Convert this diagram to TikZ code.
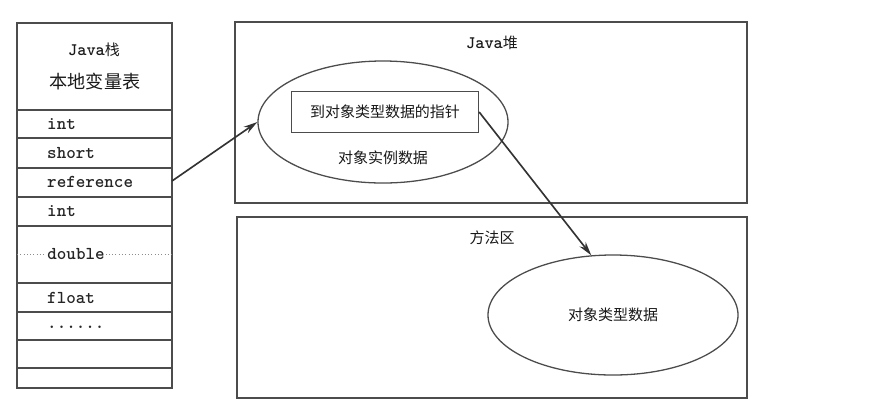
\documentclass[tikz,border=0pt]{standalone}
\usepackage{fontspec}
\setmainfont{Noto Sans CJK SC}
\usetikzlibrary{shapes.geometric,arrows.meta}
\newcommand\javaname{{\ttfamily\bfseries\fontsize{15}{17}\selectfont Java}}
\tikzset{
  frame/.style={draw=black!70, line width=1.1pt},
  cell/.style={font=\ttfamily\bfseries\fontsize{15.5}{17}\selectfont, text=black!85, anchor=west, inner sep=0pt},
  cjk/.style={font=\fontsize{12.8}{15}\selectfont, text=black!90},
  link/.style={-{Stealth[length=12pt,width=6.5pt]}, line width=1.4pt, draw=black!80},
}
\begin{document}
\begin{tikzpicture}[x=0.03cm, y=-0.03cm]
  \useasboundingbox (0,0) rectangle (895,410);
  % Stack
  \draw[frame] (17,23) rectangle (172,388);
  \foreach \y in {110,138,168,197,226,283,312,340,368}
    \draw[frame] (17,\y) -- (172,\y);
  \draw[black!45, dotted, line width=0.8pt] (17,254) -- (172,254);
  \node[cjk] (stack) at (94,50) {\javaname 栈};
  \node[cjk, font=\fontsize{15.5}{17}\selectfont] (lvt) at (95,82) {本地变量表};
  \node[cell] (int1) at (47,124) {int};
  \node[cell] (short) at (47,153) {short};
  \node[cell] (ref) at (47,182) {reference};
  \node[cell] (int2) at (47,211) {int};
  \node[cell, fill=white, inner xsep=1pt] (dbl) at (46,254) {double};
  \node[cell] (flt) at (47,298) {float};
  \node[cell] (more) at (47,327) {......};
  \coordinate (refend) at (172,181);
  % Heap
  \draw[frame] (235,22) rectangle (747,203);
  \node[cjk] (heap) at (492,43) {\javaname 堆};
  \node[frame, ellipse, minimum width=7.5cm, minimum height=3.66cm, inner sep=0pt] (obj) at (383,122) {};
  \node[frame, cjk, minimum width=5.61cm, minimum height=1.23cm] (ptr) at (385,112) {到对象类型数据的指针};
  \node[cjk] (inst) at (383,158) {对象实例数据};
  % Method area
  \draw[frame] (237,217) rectangle (747,398);
  \node[cjk] (meth) at (492,238) {方法区};
  \node[frame, cjk, ellipse, minimum width=7.5cm, minimum height=3.6cm, inner sep=0pt] (klass) at (613,315) {对象类型数据};
  % Links
  \draw[link] (refend) -- (obj.west);
  \draw[link] (ptr.east) -- (klass.110);
\end{tikzpicture}
\end{document}
